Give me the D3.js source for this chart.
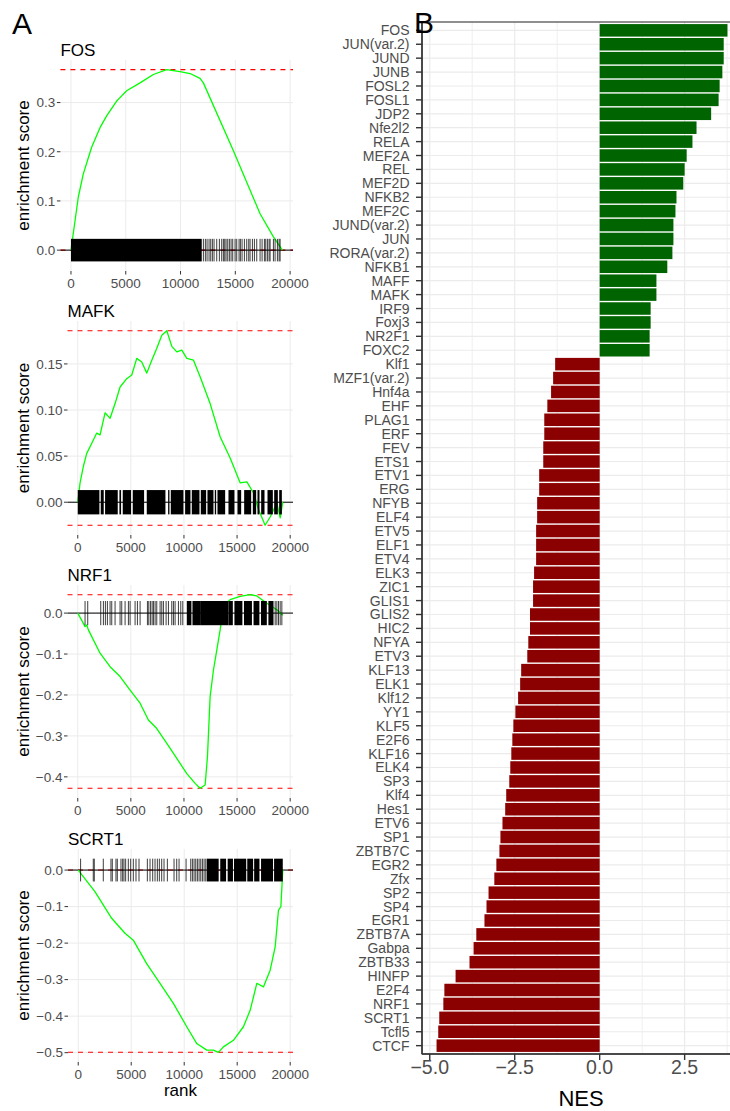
<!DOCTYPE html>
<html>
<head>
<meta charset="utf-8">
<script src="https://cdn.jsdelivr.net/npm/d3@7"></script>
<style>
  body { margin: 0; background: #fff; }
  svg { display: block; font-family: "Liberation Sans", Arial, sans-serif; }
</style>
</head>
<body>
<svg id="fig" width="730" height="1111"></svg>
<script>
// ---------- panel A data ----------
const nGenes = 19300;

const fosRank = [0, 670, 1126, 1887, 2648, 3257, 4170, 4474, 5083, 6301, 7519, 8737, 9954, 10868, 11781, 12085, 14825, 17260, 18478, 19300];
const fosES = [0, 0.108, 0.155, 0.209, 0.249, 0.273, 0.303, 0.310, 0.324, 0.340, 0.357, 0.367, 0.363, 0.359, 0.349, 0.340, 0.202, 0.074, 0.027, 0];
const fosDense = [[0, 11935]];
const fosHits = [12085, 12267, 12420, 12603, 12755, 12907, 13059, 13303, 13546, 13760, 13912, 14034, 14155, 14307, 14459, 14612, 14764, 14977, 15129, 15342, 15463, 15616, 15829, 16042, 16225, 16347, 16560, 16743, 16956, 17260, 17443, 17656, 17777, 17930, 18082, 18174, 18478, 18630, 18843, 18995, 19087];

const mafkRank = [0, 217, 530, 848, 1319, 1790, 2101, 2572, 3043, 3514, 3985, 4613, 5084, 5555, 6026, 6500, 6970, 7442, 7913, 8384, 8855, 9326, 9797, 10268, 10896, 11521, 12463, 13405, 14347, 15289, 15921, 16549, 17020, 17640, 18116, 18747, 19059, 19300];
const mafkES = [0, 0.021, 0.039, 0.053, 0.064, 0.075, 0.073, 0.097, 0.091, 0.107, 0.125, 0.134, 0.138, 0.156, 0.152, 0.140, 0.154, 0.167, 0.181, 0.186, 0.169, 0.163, 0.165, 0.156, 0.154, 0.136, 0.107, 0.071, 0.048, 0.021, 0.022, 0.010, -0.008, -0.025, -0.016, -0.001, -0.017, 0];
const mafkDense = [[0, 2038], [2164, 2446], [2572, 3765], [3922, 4079], [4236, 5021], [5178, 6246], [6497, 8255], [8507, 8632], [8758, 9951], [10108, 10611], [10736, 11458], [11585, 12087], [12212, 12777], [12903, 13029], [13154, 13877], [14190, 14755], [15038, 15384], [15667, 16326], [16483, 16797], [16922, 17111], [17268, 17582], [17864, 18367], [18493, 18838], [18964, 19215]];
const mafkHits = [];

const nrf1Rank = [0, 530, 688, 848, 1000, 2101, 3043, 3985, 4927, 5869, 6651, 7442, 8384, 9326, 10268, 11050, 11521, 11992, 12212, 12463, 12777, 13094, 13405, 13716, 14347, 15289, 16231, 16863, 17805, 18747, 19300];
const nrf1ES = [0, -0.025, -0.033, -0.029, -0.041, -0.098, -0.131, -0.155, -0.188, -0.220, -0.261, -0.282, -0.318, -0.355, -0.392, -0.416, -0.428, -0.420, -0.351, -0.204, -0.139, -0.090, -0.041, 0.016, 0.033, 0.041, 0.045, 0.042, 0.024, 0.008, -0.005];
const nrf1Dense = [[10266, 10700], [10800, 11521], [11521, 14190], [14190, 14600], [14750, 15500], [15650, 16400], [16550, 17100], [17250, 17800], [17950, 18429]];
const nrf1Hits = [688, 939, 2164, 2415, 2603, 2791, 3043, 3200, 3514, 3985, 4142, 4456, 4770, 4927, 5398, 5618, 5869, 6560, 6686, 6843, 7000, 7126, 7282, 7439, 7753, 7911, 8067, 8318, 8538, 8852, 9009, 9166, 9480, 9700, 9889, 18587, 18744, 18901, 19058, 19215];

const scrt1Rank = [0, 1578, 3155, 4412, 5196, 6459, 7719, 8978, 10240, 11186, 12130, 12754, 13226, 13698, 14643, 15588, 16221, 16853, 17477, 18110, 18583, 18894, 19121, 19300];
const scrt1ES = [0, -0.059, -0.132, -0.173, -0.192, -0.256, -0.310, -0.365, -0.429, -0.475, -0.493, -0.493, -0.499, -0.484, -0.466, -0.429, -0.384, -0.310, -0.320, -0.274, -0.210, -0.110, -0.100, 0];
const scrt1Dense = [[12127, 13250], [13400, 13950], [14100, 14600], [14700, 15850], [15950, 16500], [16600, 17100], [17250, 18380], [18480, 19300]];
const scrt1Hits = [224, 1420, 1515, 2365, 3089, 3215, 3562, 3688, 4034, 4191, 4317, 4475, 4727, 4948, 5199, 5451, 5735, 6522, 6774, 7026, 7246, 7466, 7655, 7876, 8096, 8411, 9041, 9293, 9513, 10175, 10616, 10773, 10930, 11088, 11245, 11403, 11561, 11718, 11875, 12033];

// ---------- panel B data ----------
const tfNames = ['FOS', 'JUN(var.2)', 'JUND', 'JUNB', 'FOSL2', 'FOSL1', 'JDP2', 'Nfe2l2', 'RELA', 'MEF2A', 'REL', 'MEF2D', 'NFKB2', 'MEF2C', 'JUND(var.2)', 'JUN', 'RORA(var.2)', 'NFKB1', 'MAFF', 'MAFK', 'IRF9', 'Foxj3', 'NR2F1', 'FOXC2',
  'Klf1', 'MZF1(var.2)', 'Hnf4a', 'EHF', 'PLAG1', 'ERF', 'FEV', 'ETS1', 'ETV1', 'ERG', 'NFYB', 'ELF4', 'ETV5', 'ELF1', 'ETV4', 'ELK3', 'ZIC1', 'GLIS1', 'GLIS2', 'HIC2', 'NFYA', 'ETV3', 'KLF13', 'ELK1', 'Klf12', 'YY1', 'KLF5', 'E2F6', 'KLF16', 'ELK4', 'SP3', 'Klf4', 'Hes1', 'ETV6', 'SP1', 'ZBTB7C', 'EGR2', 'Zfx', 'SP2', 'SP4', 'EGR1', 'ZBTB7A', 'Gabpa', 'ZBTB33', 'HINFP', 'E2F4', 'NRF1', 'SCRT1', 'Tcfl5', 'CTCF'];
const tfNES = [3.76, 3.65, 3.65, 3.61, 3.53, 3.50, 3.28, 2.85, 2.73, 2.56, 2.50, 2.46, 2.26, 2.23, 2.17, 2.17, 2.14, 1.99, 1.67, 1.67, 1.50, 1.50, 1.47, 1.47,
  -1.31, -1.37, -1.43, -1.54, -1.63, -1.63, -1.66, -1.66, -1.78, -1.78, -1.84, -1.84, -1.87, -1.87, -1.87, -1.93, -1.96, -1.96, -2.05, -2.05, -2.10, -2.13, -2.31, -2.34, -2.40, -2.48, -2.54, -2.57, -2.60, -2.63, -2.66, -2.75, -2.78, -2.86, -2.92, -2.95, -3.04, -3.10, -3.27, -3.33, -3.39, -3.63, -3.71, -3.83, -4.24, -4.57, -4.60, -4.72, -4.75, -4.80];
const nesTicks = [-5, -2.5, 0, 2.5];

const svg = d3.select('#fig');
const gridCol = '#ebebeb';
const tickCol = '#333333';
const labCol = '#4d4d4d';

// ---------- panel A ----------
const panelsA = [
  { name: 'FOS', rank: fosRank, es: fosES, dense: fosDense, hits: fosHits, fmt: '.1f', left: 60.4, top: 60, bottom: 271 },
  { name: 'MAFK', rank: mafkRank, es: mafkES, dense: mafkDense, hits: mafkHits, fmt: '.2f', left: 67.5, top: 321, bottom: 535 },
  { name: 'NRF1', rank: nrf1Rank, es: nrf1ES, dense: nrf1Dense, hits: nrf1Hits, fmt: '.1f', left: 67.5, top: 585, bottom: 798 },
  { name: 'SCRT1', rank: scrt1Rank, es: scrt1ES, dense: scrt1Dense, hits: scrt1Hits, fmt: '.1f', left: 68, top: 849, bottom: 1062 }
];
const rightA = 293;

panelsA.forEach((p, idx) => {
  const g = svg.append('g');
  const top = d3.max(p.es), bot = d3.min(p.es);
  const diff = (top - bot) / 8;
  let lo = Math.min(bot, -diff / 2), hi = Math.max(top, diff / 2);
  const pad = (hi - lo) * 0.05;
  const y = d3.scaleLinear().domain([lo - pad, hi + pad]).range([p.bottom, p.top]);
  const x = d3.scaleLinear().domain([-0.05 * nGenes, 1.05 * nGenes]).range([p.left, rightA]);

  const yt = y.ticks(5), xt = x.ticks(5);

  // grid
  g.selectAll('.hg').data(yt).enter().append('line')
    .attr('x1', p.left).attr('x2', rightA)
    .attr('y1', d => y(d)).attr('y2', d => y(d))
    .attr('stroke', gridCol).attr('stroke-width', 1);
  g.selectAll('.vg').data(xt).enter().append('line')
    .attr('x1', d => x(d)).attr('x2', d => x(d))
    .attr('y1', p.top).attr('y2', p.bottom)
    .attr('stroke', gridCol).attr('stroke-width', 1);

  // red dashed max / min
  [top, bot].forEach(v => {
    g.append('line')
      .attr('x1', p.left).attr('x2', rightA)
      .attr('y1', y(v)).attr('y2', y(v))
      .attr('stroke', '#ff0000').attr('stroke-width', 1.1)
      .attr('stroke-dasharray', '5,5');
  });

  // zero line
  g.append('line')
    .attr('x1', p.left).attr('x2', rightA)
    .attr('y1', y(0)).attr('y2', y(0))
    .attr('stroke', '#000').attr('stroke-width', 1);

  // running ES
  const pts = p.rank.map((r, i) => [r, p.es[i]]);
  g.append('path')
    .datum(pts)
    .attr('d', d3.line().x(d => x(d[0])).y(d => y(d[1])))
    .attr('fill', 'none').attr('stroke', '#00ff00').attr('stroke-width', 1.3)
    .attr('stroke-linejoin', 'round');

  // barcode
  g.selectAll('.dense').data(p.dense).enter().append('rect')
    .attr('x', d => x(d[0]))
    .attr('width', d => Math.max(1, x(d[1]) - x(d[0])))
    .attr('y', y(diff / 2))
    .attr('height', y(-diff / 2) - y(diff / 2))
    .attr('fill', '#000');
  g.selectAll('.hit').data(p.hits).enter().append('line')
    .attr('x1', d => x(d)).attr('x2', d => x(d))
    .attr('y1', y(diff / 2)).attr('y2', y(-diff / 2))
    .attr('stroke', '#000').attr('stroke-width', 0.9).attr('stroke-opacity', 0.85);

  // y axis ticks + labels
  g.selectAll('.ytk').data(yt).enter().append('line')
    .attr('x1', p.left - 3.5).attr('x2', p.left)
    .attr('y1', d => y(d)).attr('y2', d => y(d))
    .attr('stroke', tickCol).attr('stroke-width', 1);
  g.selectAll('.ylab').data(yt).enter().append('text')
    .attr('x', p.left - 5).attr('y', d => y(d) + 4.8)
    .attr('text-anchor', 'end')
    .style('font-size', '13.5px').attr('fill', labCol)
    .text(d => d3.format(p.fmt)(d));

  // x axis ticks + labels
  g.selectAll('.xtk').data(xt).enter().append('line')
    .attr('x1', d => x(d)).attr('x2', d => x(d))
    .attr('y1', p.bottom).attr('y2', p.bottom + 3.5)
    .attr('stroke', tickCol).attr('stroke-width', 1);
  g.selectAll('.xlab').data(xt).enter().append('text')
    .attr('x', d => x(d)).attr('y', p.bottom + 17)
    .attr('text-anchor', 'middle')
    .style('font-size', '13.5px').attr('fill', labCol)
    .text(d => d3.format('d')(d));

  // titles
  g.append('text')
    .attr('x', p.left).attr('y', p.top - 4)
    .style('font-size', '17px')
    .text(p.name);
  g.append('text')
    .attr('transform', `translate(29,${(p.top + p.bottom) / 2}) rotate(-90)`)
    .attr('text-anchor', 'middle')
    .style('font-size', '17px')
    .text('enrichment score');
  if (idx === panelsA.length - 1) {
    g.append('text')
      .attr('x', (p.left + rightA) / 2).attr('y', p.bottom + 34)
      .attr('text-anchor', 'middle')
      .style('font-size', '17px')
      .text('rank');
  }
});

svg.append('text').attr('x', 12).attr('y', 34).style('font-size', '30px').text('A');

// ---------- panel B ----------
const bLeft = 422, bRight = 742, bTop = 22, bBottom = 1054;
const ext = d3.extent(tfNES);
const padB = (ext[1] - ext[0]) * 0.05;
const xB = d3.scaleLinear().domain([ext[0] - padB, ext[1] + padB]).range([bLeft, bRight]);
const yB = d3.scaleBand().domain(tfNames).range([bTop, bBottom]).paddingInner(0.1).paddingOuter(0.15);
const gB = svg.append('g');

// minor + major grid
const minor = nesTicks.map(d => d + 1.25);
gB.selectAll('.mg').data(minor).enter().append('line')
  .attr('x1', d => xB(d)).attr('x2', d => xB(d))
  .attr('y1', bTop).attr('y2', bBottom)
  .attr('stroke', gridCol).attr('stroke-width', 0.8);
gB.selectAll('.vg').data(nesTicks).enter().append('line')
  .attr('x1', d => xB(d)).attr('x2', d => xB(d))
  .attr('y1', bTop).attr('y2', bBottom)
  .attr('stroke', gridCol).attr('stroke-width', 1.2);
gB.selectAll('.hg').data(tfNames).enter().append('line')
  .attr('x1', bLeft).attr('x2', bRight)
  .attr('y1', d => yB(d) + yB.bandwidth() / 2).attr('y2', d => yB(d) + yB.bandwidth() / 2)
  .attr('stroke', gridCol).attr('stroke-width', 1.2);

// bars
gB.selectAll('.bar').data(tfNames).enter().append('rect')
  .attr('x', (d, i) => xB(Math.min(0, tfNES[i])))
  .attr('width', (d, i) => Math.abs(xB(tfNES[i]) - xB(0)))
  .attr('y', d => yB(d))
  .attr('height', yB.bandwidth())
  .attr('fill', (d, i) => tfNES[i] > 0 ? '#006400' : '#8b0000');

// panel border + axis lines
gB.append('rect')
  .attr('x', bLeft).attr('y', bTop)
  .attr('width', bRight - bLeft).attr('height', bBottom - bTop)
  .attr('fill', 'none').attr('stroke', tickCol).attr('stroke-width', 1.1);
gB.append('line').attr('x1', bLeft).attr('x2', bLeft).attr('y1', bTop).attr('y2', bBottom)
  .attr('stroke', tickCol).attr('stroke-width', 1.5);
gB.append('line').attr('x1', bLeft).attr('x2', bRight).attr('y1', bBottom).attr('y2', bBottom)
  .attr('stroke', tickCol).attr('stroke-width', 1.5);

// y axis
gB.selectAll('.ytk').data(tfNames).enter().append('line')
  .attr('x1', bLeft - 6).attr('x2', bLeft)
  .attr('y1', d => yB(d) + yB.bandwidth() / 2).attr('y2', d => yB(d) + yB.bandwidth() / 2)
  .attr('stroke', tickCol).attr('stroke-width', 1.4);
gB.selectAll('.ylab').data(tfNames).enter().append('text')
  .attr('x', bLeft - 12.5).attr('y', d => yB(d) + yB.bandwidth() / 2 + 5)
  .attr('text-anchor', 'end')
  .style('font-size', '14px').attr('fill', labCol)
  .text(d => d);

// x axis
gB.selectAll('.xtk').data(nesTicks).enter().append('line')
  .attr('x1', d => xB(d)).attr('x2', d => xB(d))
  .attr('y1', bBottom).attr('y2', bBottom + 6)
  .attr('stroke', tickCol).attr('stroke-width', 1.4);
gB.selectAll('.xlab').data(nesTicks).enter().append('text')
  .attr('x', d => xB(d)).attr('y', bBottom + 20)
  .attr('text-anchor', 'middle')
  .style('font-size', '19.5px').attr('fill', labCol)
  .text(d => d3.format('.1f')(d));
gB.append('text')
  .attr('x', (bLeft + bRight) / 2 - 1).attr('y', bBottom + 52)
  .attr('text-anchor', 'middle')
  .style('font-size', '22px')
  .text('NES');

svg.append('text').attr('x', 414).attr('y', 33).style('font-size', '30px').text('B');
</script>
</body>
</html>
